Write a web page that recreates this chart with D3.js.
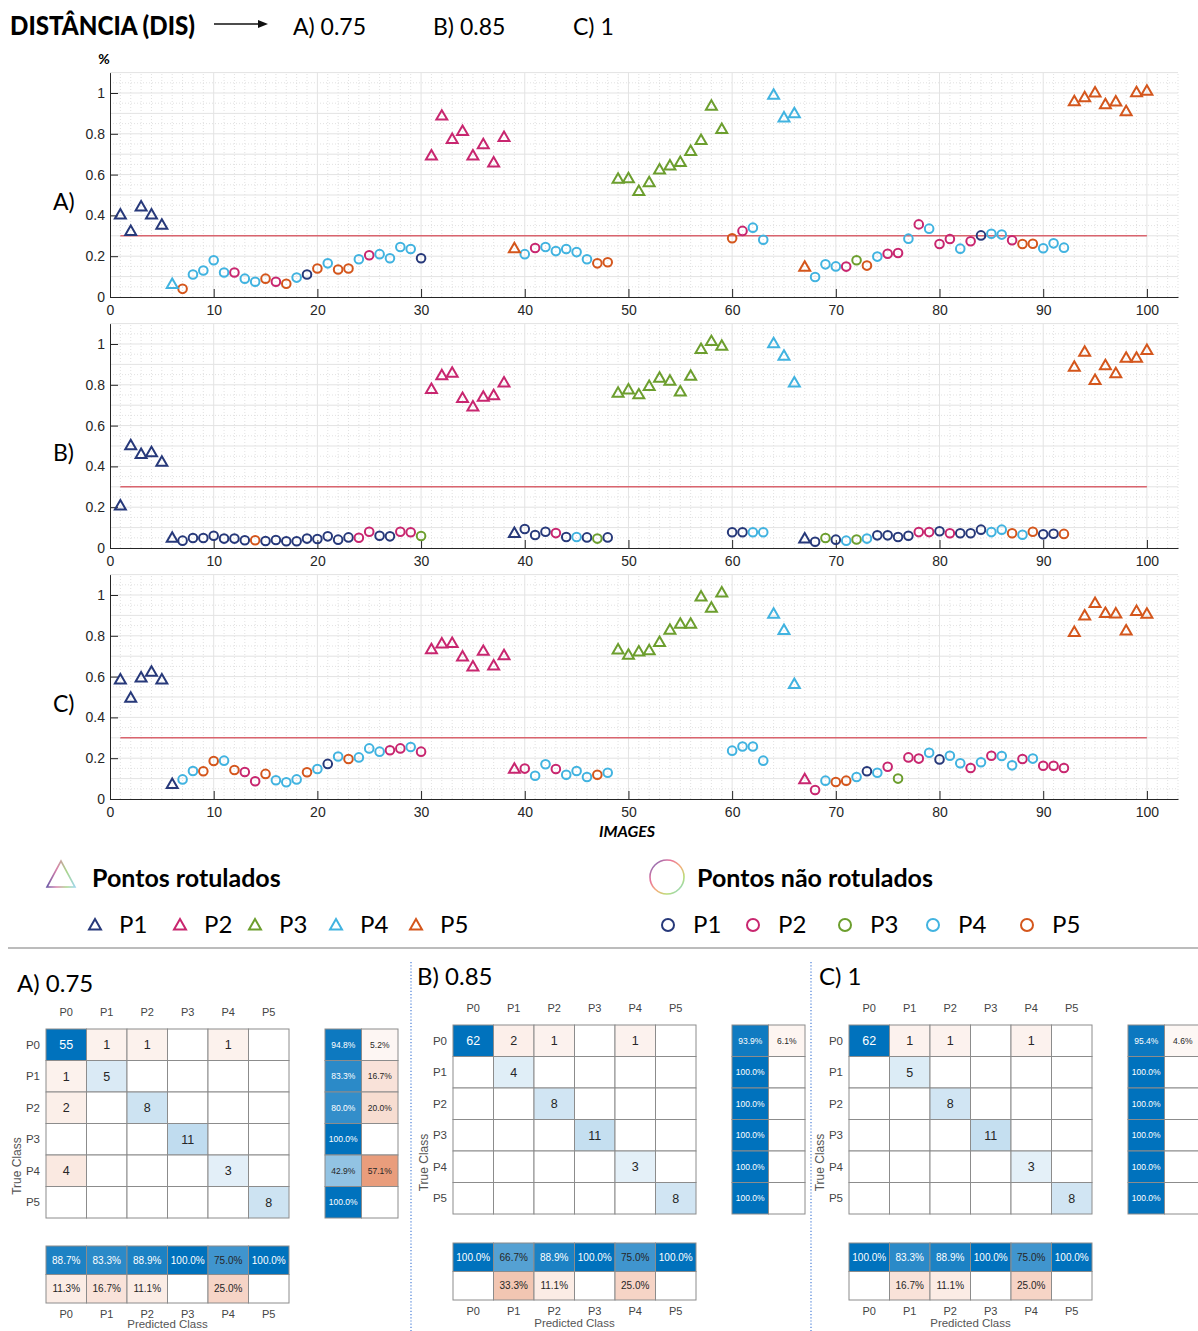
<!DOCTYPE html>
<html><head><meta charset="utf-8">
<script src="https://cdn.jsdelivr.net/npm/d3@7"></script>
<style>body{margin:0;background:#fff}svg{display:block}</style>
</head><body><svg id="c" width="1198" height="1331"></svg>
<script>
// ---------------- DATA ----------------
const classNames = ["P1", "P2", "P3", "P4", "P5"];
const classColors = ["#27397a", "#c8266f", "#6c9e2e", "#41b3e0", "#d4561c"];
const images = d3.range(1, 101);
const labeledImages = [1,2,3,4,5,6,31,32,33,34,35,36,37,38,39,49,50,51,52,53,54,55,56,57,58,59,64,65,66,67,93,94,95,96,97,98,99,100];
const threshold = 0.3;
const yTicks = [0, 0.2, 0.4, 0.6, 0.8, 1];
const xTicks = [0, 10, 20, 30, 40, 50, 60, 70, 80, 90, 100];

const valuesA = [0.40,0.32,0.44,0.40,0.35,0.06,0.04,0.11,0.13,0.18,
  0.12,0.12,0.09,0.075,0.09,0.075,0.065,0.095,0.11,0.14,
  0.165,0.135,0.14,0.185,0.205,0.21,0.19,0.245,0.235,0.19,
  0.69,0.885,0.77,0.81,0.69,0.745,0.655,0.78,0.235,0.21,
  0.24,0.245,0.225,0.235,0.22,0.185,0.165,0.17,0.575,0.578,
  0.516,0.559,0.621,0.64,0.658,0.712,0.766,0.933,0.819,0.288,
  0.324,0.34,0.281,0.987,0.876,0.897,0.144,0.098,0.16,0.15,
  0.149,0.18,0.154,0.198,0.212,0.216,0.286,0.356,0.335,0.26,
  0.284,0.237,0.273,0.302,0.31,0.306,0.278,0.26,0.261,0.239,
  0.263,0.242,0.956,0.975,0.998,0.941,0.954,0.907,1.0,1.007];
const classA = [1,1,1,1,1,4,5,4,4,4, 4,2,4,4,5,2,5,4,1,5, 4,5,5,4,2,4,4,4,4,1, 2,2,2,2,2,2,2,2,5,4,
  2,4,4,4,4,4,5,5,3,3, 3,3,3,3,3,3,3,3,3,5, 2,4,4,4,4,4,5,4,4,4, 2,3,5,4,2,2,4,2,4,2,
  2,4,2,1,4,4,2,5,5,4, 4,4,5,5,5,5,5,5,5,5];

const valuesB = [0.204,0.50,0.457,0.465,0.419,0.046,0.036,0.049,0.049,0.06,
  0.046,0.046,0.038,0.038,0.034,0.039,0.033,0.033,0.046,0.044,
  0.057,0.041,0.052,0.05,0.08,0.06,0.057,0.08,0.077,0.059,
  0.775,0.843,0.855,0.731,0.69,0.737,0.745,0.807,0.07,0.093,
  0.064,0.08,0.073,0.054,0.054,0.052,0.046,0.052,0.757,0.773,
  0.749,0.79,0.83,0.816,0.763,0.84,0.972,1.01,0.987,0.077,
  0.077,0.077,0.077,1.0,0.938,0.807,0.042,0.031,0.049,0.041,
  0.036,0.042,0.046,0.062,0.062,0.054,0.06,0.078,0.078,0.082,
  0.072,0.072,0.072,0.09,0.078,0.09,0.072,0.065,0.08,0.067,
  0.07,0.069,0.884,0.958,0.819,0.892,0.853,0.928,0.928,0.967];
const classB = [1,1,1,1,1,1,1,1,1,1, 1,1,1,5,1,1,1,1,1,1, 1,1,1,2,2,1,1,2,2,3, 2,2,2,2,2,2,2,2,1,1,
  1,1,2,1,4,1,3,1,3,3, 3,3,3,3,3,3,3,3,3,1, 1,4,4,4,4,4,1,1,3,1, 4,3,4,1,1,1,1,2,2,1,
  2,1,1,1,4,4,5,4,5,1, 1,5,5,5,5,5,5,5,5,5];

const valuesC = [0.582,0.492,0.591,0.62,0.582,0.07,0.096,0.137,0.136,0.186,
  0.188,0.142,0.132,0.087,0.123,0.092,0.082,0.096,0.131,0.147,
  0.172,0.208,0.196,0.204,0.248,0.232,0.239,0.248,0.255,0.232,
  0.73,0.758,0.761,0.694,0.645,0.722,0.65,0.701,0.144,0.149,
  0.114,0.17,0.147,0.119,0.137,0.108,0.119,0.129,0.729,0.703,
  0.719,0.725,0.766,0.825,0.855,0.855,0.989,0.933,1.008,0.237,
  0.257,0.257,0.188,0.904,0.824,0.56,0.093,0.044,0.09,0.083,
  0.09,0.108,0.136,0.129,0.158,0.1,0.204,0.198,0.227,0.194,
  0.212,0.175,0.152,0.18,0.212,0.211,0.165,0.196,0.198,0.163,
  0.163,0.152,0.814,0.895,0.957,0.908,0.905,0.822,0.917,0.904];
const classC = [1,1,1,1,1,1,4,4,5,5, 4,5,2,2,5,4,4,4,5,4, 1,4,5,4,4,4,2,2,4,2, 2,2,2,2,2,2,2,2,2,2,
  4,4,2,4,4,4,5,4,3,3, 3,3,3,3,3,3,3,3,3,4, 4,4,4,4,4,4,2,2,4,5, 5,4,1,4,2,3,2,2,4,1,
  4,4,2,4,2,4,4,2,4,2, 2,2,5,5,5,5,5,5,5,5];

const cmLabels = ["P0", "P1", "P2", "P3", "P4", "P5"];
const cmA = [[55,1,1,0,1,0],[1,5,0,0,0,0],[2,0,8,0,0,0],[0,0,0,11,0,0],[4,0,0,0,3,0],[0,0,0,0,0,8]];
const rowSumA = [[94.8,5.2],[83.3,16.7],[80.0,20.0],[100,null],[42.9,57.1],[100,null]];
const colSumA = [[88.7,11.3],[83.3,16.7],[88.9,11.1],[100,null],[75.0,25.0],[100,null]];
const cmB = [[62,2,1,0,1,0],[0,4,0,0,0,0],[0,0,8,0,0,0],[0,0,0,11,0,0],[0,0,0,0,3,0],[0,0,0,0,0,8]];
const rowSumB = [[93.9,6.1],[100,null],[100,null],[100,null],[100,null],[100,null]];
const colSumB = [[100,null],[66.7,33.3],[88.9,11.1],[100,null],[75.0,25.0],[100,null]];
const cmC = [[62,1,1,0,1,0],[0,5,0,0,0,0],[0,0,8,0,0,0],[0,0,0,11,0,0],[0,0,0,0,3,0],[0,0,0,0,0,8]];
const rowSumC = [[95.4,4.6],[100,null],[100,null],[100,null],[100,null],[100,null]];
const colSumC = [[100,null],[83.3,16.7],[88.9,11.1],[100,null],[75.0,25.0],[100,null]];

// ---------------- DRAW ----------------
const svg = d3.select("#c");
const defs = svg.append("defs");
const lbl = "Lato, 'Open Sans', sans-serif";
const ax = "'Liberation Sans', Arial, sans-serif";

// header
svg.append("text").attr("x", 10).attr("y", 35).attr("font-family", lbl).attr("font-weight", 900)
  .attr("font-size", 27).attr("textLength", 185).attr("lengthAdjust", "spacingAndGlyphs").text("DISTÂNCIA (DIS)");
svg.append("line").attr("x1", 214).attr("x2", 260).attr("y1", 24).attr("y2", 24).attr("stroke", "#111").attr("stroke-width", 1.6);
svg.append("path").attr("d", "M258,20 L268,24 L258,28 Z").attr("fill", "#111");
[["A) 0.75", 293], ["B) 0.85", 433], ["C) 1", 573]].forEach(([t, xx]) =>
  svg.append("text").attr("x", xx).attr("y", 35).attr("font-family", lbl).attr("font-size", 23).text(t));
svg.append("text").attr("x", 104).attr("y", 64).attr("text-anchor", "middle").attr("font-family", lbl)
  .attr("font-weight", 700).attr("font-size", 14).text("%");

const x = d3.scaleLinear().domain([0, 103]).range([110, 1178]);
const panels = [
  {label: "A)", values: valuesA, classes: classA, base: 297},
  {label: "B)", values: valuesB, classes: classB, base: 548},
  {label: "C)", values: valuesC, classes: classC, base: 799}
];
const tri = d3.symbol(d3.symbolTriangle, 52)();

panels.forEach(p => {
  const y = d3.scaleLinear().domain([0, 1.1]).range([p.base, p.base - 224.4]);
  const g = svg.append("g");
  const [y0, y1] = y.range();
  // minor grids
  g.selectAll(null).data(d3.range(1, 104).filter(v => v % 10)).join("line")
    .attr("x1", d => x(d)).attr("x2", d => x(d)).attr("y1", y0).attr("y2", y1)
    .attr("stroke", "#d9d9d9").attr("stroke-width", 0.8).attr("stroke-dasharray", "1,2");
  g.selectAll(null).data(d3.range(1, 22).filter(v => v % 2)).join("line")
    .attr("x1", 110).attr("x2", 1178).attr("y1", d => y(d * 0.05)).attr("y2", d => y(d * 0.05))
    .attr("stroke", "#d9d9d9").attr("stroke-width", 0.8).attr("stroke-dasharray", "1,2");
  // major grids
  g.selectAll(null).data(d3.range(1, 11)).join("line")
    .attr("x1", d => x(d * 10)).attr("x2", d => x(d * 10)).attr("y1", y0).attr("y2", y1)
    .attr("stroke", "#e3e3e3").attr("stroke-width", 1);
  g.selectAll(null).data(d3.range(1, 12)).join("line")
    .attr("x1", 110).attr("x2", 1178).attr("y1", d => y(d * 0.1)).attr("y2", d => y(d * 0.1))
    .attr("stroke", "#e3e3e3").attr("stroke-width", 1);
  // axes
  const ya = g.append("g").attr("transform", "translate(110,0)")
    .call(d3.axisLeft(y).tickValues(yTicks).tickSize(-8).tickSizeOuter(0).tickPadding(5).tickFormat(d3.format("~g")));
  const xa = g.append("g").attr("transform", `translate(0,${p.base})`)
    .call(d3.axisBottom(x).tickValues(xTicks).tickSize(-8).tickSizeOuter(0).tickPadding(8));
  [ya, xa].forEach(a => {
    a.selectAll("text").attr("font-family", ax).attr("font-size", 14).attr("fill", "#262626");
    a.selectAll("line, path").attr("stroke", "#262626");
  });
  // threshold
  g.append("line").attr("x1", x(1)).attr("x2", x(100)).attr("y1", y(threshold)).attr("y2", y(threshold))
    .attr("stroke", "#d9646e").attr("stroke-width", 1.6);
  // points
  const pts = images.map((im, i) => ({im, v: p.values[i], c: p.classes[i], lab: labeledImages.includes(im)}));
  g.selectAll(null).data(pts.filter(d => !d.lab)).join("circle")
    .attr("cx", d => x(d.im)).attr("cy", d => y(d.v)).attr("r", 4.3)
    .attr("fill", "none").attr("stroke", d => classColors[d.c - 1]).attr("stroke-width", 2);
  g.selectAll(null).data(pts.filter(d => d.lab)).join("path")
    .attr("d", tri).attr("transform", d => `translate(${x(d.im)},${y(d.v)})`)
    .attr("fill", "none").attr("stroke", d => classColors[d.c - 1]).attr("stroke-width", 2).attr("stroke-linejoin", "miter");
  svg.append("text").attr("x", 53).attr("y", p.base - 87).attr("font-family", lbl).attr("font-size", 23).text(p.label);
});
svg.append("text").attr("x", 627).attr("y", 837).attr("text-anchor", "middle").attr("font-family", lbl)
  .attr("font-weight", 700).attr("font-style", "italic").attr("font-size", 16).text("IMAGES");

// ---------------- LEGEND ----------------
const gt = defs.append("linearGradient").attr("id", "gtri").attr("x1", "0").attr("x2", "1").attr("y1", "0").attr("y2", "0");
[["0", "#6d5aa6"], ["0.35", "#d982ab"], ["0.7", "#a9d58a"], ["1", "#9fd6ec"]].forEach(([o, c]) => gt.append("stop").attr("offset", o).attr("stop-color", c));
const gc = defs.append("linearGradient").attr("id", "gcir").attr("x1", "0").attr("x2", "1").attr("y1", "0").attr("y2", "1");
[["0", "#5d6fc0"], ["0.3", "#e8739c"], ["0.55", "#f3b07a"], ["0.75", "#b9dd78"], ["1", "#7fd2ee"]].forEach(([o, c]) => gc.append("stop").attr("offset", o).attr("stop-color", c));
svg.append("path").attr("d", "M47,887 L61,861 L75,887 Z").attr("fill", "none").attr("stroke", "url(#gtri)").attr("stroke-width", 1.6);
svg.append("text").attr("x", 92).attr("y", 887).attr("font-family", lbl).attr("font-weight", 700).attr("font-size", 25).text("Pontos rotulados");
svg.append("circle").attr("cx", 667).attr("cy", 877).attr("r", 17).attr("fill", "none").attr("stroke", "url(#gcir)").attr("stroke-width", 1.6);
svg.append("text").attr("x", 697).attr("y", 887).attr("font-family", lbl).attr("font-weight", 700).attr("font-size", 25).text("Pontos não rotulados");
const triX = [95, 180, 255, 336, 416];
const cirX = [668, 753, 845, 933, 1027];
const bigTri = d3.symbol(d3.symbolTriangle, 62)();
classNames.forEach((n, i) => {
  svg.append("path").attr("d", bigTri).attr("transform", `translate(${triX[i]},${926})`).attr("fill", "none")
    .attr("stroke", classColors[i]).attr("stroke-width", 2);
  svg.append("text").attr("x", triX[i] + 24).attr("y", 933).attr("font-family", lbl).attr("font-size", 24).text(n);
  svg.append("circle").attr("cx", cirX[i]).attr("cy", 925).attr("r", 6).attr("fill", "none")
    .attr("stroke", classColors[i]).attr("stroke-width", 2);
  svg.append("text").attr("x", cirX[i] + 25).attr("y", 933).attr("font-family", lbl).attr("font-size", 24).text(n);
});
svg.append("line").attr("x1", 8).attr("x2", 1198).attr("y1", 948).attr("y2", 948).attr("stroke", "#a6a6a6").attr("stroke-width", 1.5);
[411, 811].forEach(xx => svg.append("line").attr("x1", xx).attr("x2", xx).attr("y1", 962).attr("y2", 1331)
  .attr("stroke", "#4a7fd8").attr("stroke-width", 1.2).attr("stroke-dasharray", "1.2,2"));

// ---------------- CONFUSION MATRICES ----------------
const blue = d3.interpolateRgb("#ffffff", "#0072bd");
const orange = d3.interpolateRgb("#ffffff", "#d95319");
function drawCM(cfg) {
  const g = svg.append("g");
  const cw = 40.5, chh = 31.5;
  const cols = d3.scaleBand().domain(cmLabels).range([cfg.left, cfg.left + 6 * cw]);
  const rows = d3.scaleBand().domain(cmLabels).range([cfg.top, cfg.top + 6 * chh]);
  const maxV = d3.max(cfg.counts.flat());
  g.append("text").attr("x", cfg.tx).attr("y", cfg.ty).attr("font-family", lbl).attr("font-size", 24).text(cfg.title);
  cfg.counts.forEach((row, r) => row.forEach((v, c) => {
    const t = v ? 0.06 + 0.94 * v / maxV : 0;
    const fill = v ? (r === c ? blue(t) : orange(t)) : "#fff";
    g.append("rect").attr("x", cols(cmLabels[c])).attr("y", rows(cmLabels[r])).attr("width", cw).attr("height", chh)
      .attr("fill", fill).attr("stroke", "#8c8c8c").attr("stroke-width", 1);
    if (v) g.append("text").attr("x", cols(cmLabels[c]) + cw / 2).attr("y", rows(cmLabels[r]) + chh / 2 + 4.5)
      .attr("text-anchor", "middle").attr("font-family", ax).attr("font-size", 12.5)
      .attr("fill", t > 0.6 ? "#fff" : "#262626").text(v);
  }));
  cmLabels.forEach(l => {
    g.append("text").attr("x", cols(l) + cw / 2).attr("y", cfg.top - 13).attr("text-anchor", "middle")
      .attr("font-family", ax).attr("font-size", 11).attr("fill", "#444").text(l);
    g.append("text").attr("x", cfg.left - 6).attr("y", rows(l) + chh / 2 + 4).attr("text-anchor", "end")
      .attr("font-family", ax).attr("font-size", 11.5).attr("fill", "#444").text(l);
  });
  // row summary
  const rw = 36.5;
  cfg.rowSum.forEach((pair, r) => pair.forEach((pv, k) => {
    const t = pv == null ? 0 : pv / 100;
    const fill = pv == null ? "#fff" : (k === 0 ? blue(t) : orange(t));
    g.append("rect").attr("x", cfg.rsLeft + k * rw).attr("y", rows(cmLabels[r])).attr("width", rw).attr("height", chh)
      .attr("fill", fill).attr("stroke", "#8c8c8c").attr("stroke-width", 1);
    if (pv != null) g.append("text").attr("x", cfg.rsLeft + k * rw + rw / 2).attr("y", rows(cmLabels[r]) + chh / 2 + 3)
      .attr("text-anchor", "middle").attr("font-family", ax).attr("font-size", 8.5)
      .attr("fill", k === 0 && t >= 0.78 ? "#fff" : "#262626").text(pv.toFixed(1) + "%");
  }));
  // column summary
  const sh = 28.5;
  cfg.colSum.forEach((pair, c) => pair.forEach((pv, k) => {
    const t = pv == null ? 0 : pv / 100;
    const fill = pv == null ? "#fff" : (k === 0 ? blue(t) : orange(t));
    g.append("rect").attr("x", cols(cmLabels[c])).attr("y", cfg.csTop + k * sh).attr("width", cw).attr("height", sh)
      .attr("fill", fill).attr("stroke", "#8c8c8c").attr("stroke-width", 1);
    if (pv != null) g.append("text").attr("x", cols(cmLabels[c]) + cw / 2).attr("y", cfg.csTop + k * sh + sh / 2 + 3.5)
      .attr("text-anchor", "middle").attr("font-family", ax).attr("font-size", 10)
      .attr("fill", k === 0 && t >= 0.78 ? "#fff" : "#262626").text(pv.toFixed(1) + "%");
  }));
  cmLabels.forEach(l => g.append("text").attr("x", cols(l) + cw / 2).attr("y", cfg.csTop + 2 * sh + 15)
    .attr("text-anchor", "middle").attr("font-family", ax).attr("font-size", 11).attr("fill", "#444").text(l));
  g.append("text").attr("x", cfg.left + 3 * cw).attr("y", Math.min(cfg.csTop + 2 * sh + 27, 1328)).attr("text-anchor", "middle")
    .attr("font-family", ax).attr("font-size", 11.5).attr("fill", "#555").text("Predicted Class");
  const midY = (cfg.top + cfg.csTop + 2 * sh) / 2;
  g.append("text").attr("transform", `translate(${cfg.left - 25},${midY}) rotate(-90)`).attr("text-anchor", "middle")
    .attr("font-family", ax).attr("font-size", 12).attr("fill", "#555").text("True Class");
}
drawCM({title: "A) 0.75", tx: 17, ty: 992, left: 46, top: 1029, rsLeft: 325, csTop: 1246, counts: cmA, rowSum: rowSumA, colSum: colSumA});
drawCM({title: "B) 0.85", tx: 417, ty: 985, left: 453, top: 1025, rsLeft: 732, csTop: 1243, counts: cmB, rowSum: rowSumB, colSum: colSumB});
drawCM({title: "C) 1", tx: 819, ty: 985, left: 849, top: 1025, rsLeft: 1128, csTop: 1243, counts: cmC, rowSum: rowSumC, colSum: colSumC});
</script></body></html>
